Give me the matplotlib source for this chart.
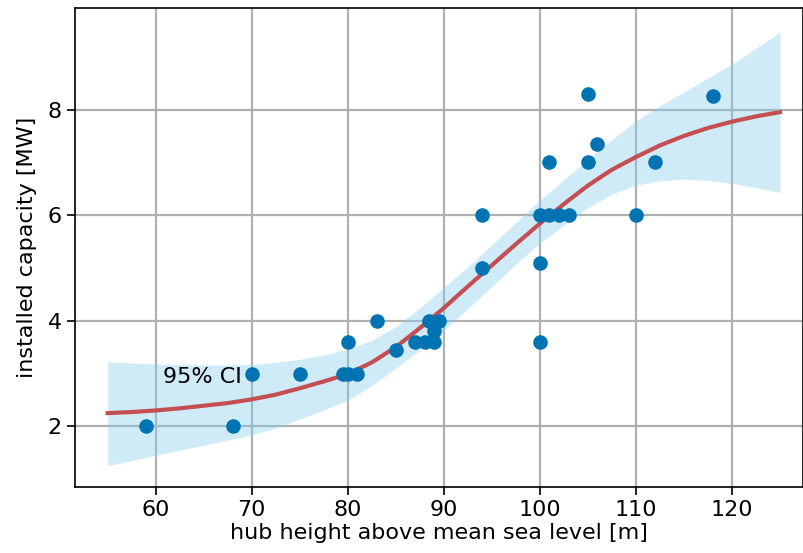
import numpy as np
import matplotlib
matplotlib.use('Agg')
import matplotlib.pyplot as plt

# observed turbines: hub height [m], capacity [MW]
hub_height = [59, 68, 70, 75, 79.5, 80, 81, 80, 83, 85, 87, 88, 89, 89, 88.5, 89.5,
              94, 94, 100, 101, 102, 103, 100, 100, 110, 101, 105, 106, 105, 112, 118]
capacity = [2, 2, 3, 3, 3, 3, 3, 3.6, 4, 3.45, 3.6, 3.6, 3.6, 3.8, 4, 4,
            6, 5, 6, 6, 6, 6, 5.1, 3.6, 6, 7, 7, 7.35, 8.3, 7, 8.25]

# fitted curve and 95% CI
fit_x = [55, 57.5, 60, 62.5, 65, 67.5, 70, 72.5, 75, 77.5, 80, 82.5, 85, 87.5, 90,
         92.5, 95, 97.5, 100, 102.5, 105, 107.5, 110, 112.5, 115, 117.5, 120, 122.5, 125]
fit_y = [2.25, 2.27, 2.30, 2.34, 2.39, 2.44, 2.51, 2.60, 2.72, 2.85, 2.99, 3.21, 3.50,
         3.86, 4.24, 4.65, 5.05, 5.45, 5.84, 6.21, 6.56, 6.86, 7.10, 7.32, 7.50, 7.65,
         7.77, 7.87, 7.95]
ci_low = [1.26, 1.35, 1.45, 1.55, 1.64, 1.74, 1.84, 1.97, 2.14, 2.31, 2.50, 2.77, 3.10,
          3.45, 3.82, 4.23, 4.65, 5.07, 5.47, 5.81, 6.14, 6.40, 6.57, 6.65, 6.68, 6.66,
          6.60, 6.52, 6.43]
ci_high = [3.22, 3.20, 3.18, 3.17, 3.16, 3.16, 3.17, 3.21, 3.27, 3.35, 3.46, 3.63, 3.89,
           4.24, 4.63, 5.02, 5.44, 5.86, 6.28, 6.67, 7.06, 7.43, 7.78, 8.07, 8.33, 8.60,
           8.86, 9.16, 9.46]

plt.rcParams['font.size'] = 16

fig = plt.figure(figsize=(8.04, 5.53), dpi=100)
ax = fig.add_axes([0.0933, 0.1193, 0.9055, 0.866])

ax.grid(True, color='#b0b0b0', linewidth=1.6, zorder=0)
ax.set_axisbelow(True)

ax.fill_between(fit_x, ci_low, ci_high, color='#87ceeb', alpha=0.4, linewidth=0, zorder=2)
ax.plot(fit_x, fit_y, color='#c44e52', linewidth=3, zorder=3)
ax.scatter(hub_height, capacity, s=110, color='#0173b2', linewidths=0, zorder=4)

ax.text(60.8, 2.94, '95% CI', ha='left', va='center', fontsize=16, zorder=5)

ax.set_xlim(51.6, 127.4)
ax.set_ylim(0.85, 9.92)
ax.set_xticks([60, 70, 80, 90, 100, 110, 120])
ax.set_yticks([2, 4, 6, 8])
ax.tick_params(length=6, width=1.2)
for s in ax.spines.values():
    s.set_linewidth(1.2)

ax.set_xlabel('hub height above mean sea level [m]', labelpad=2)
ax.set_ylabel('installed capacity [MW]', labelpad=8)

fig.savefig('out.png', dpi=100)
